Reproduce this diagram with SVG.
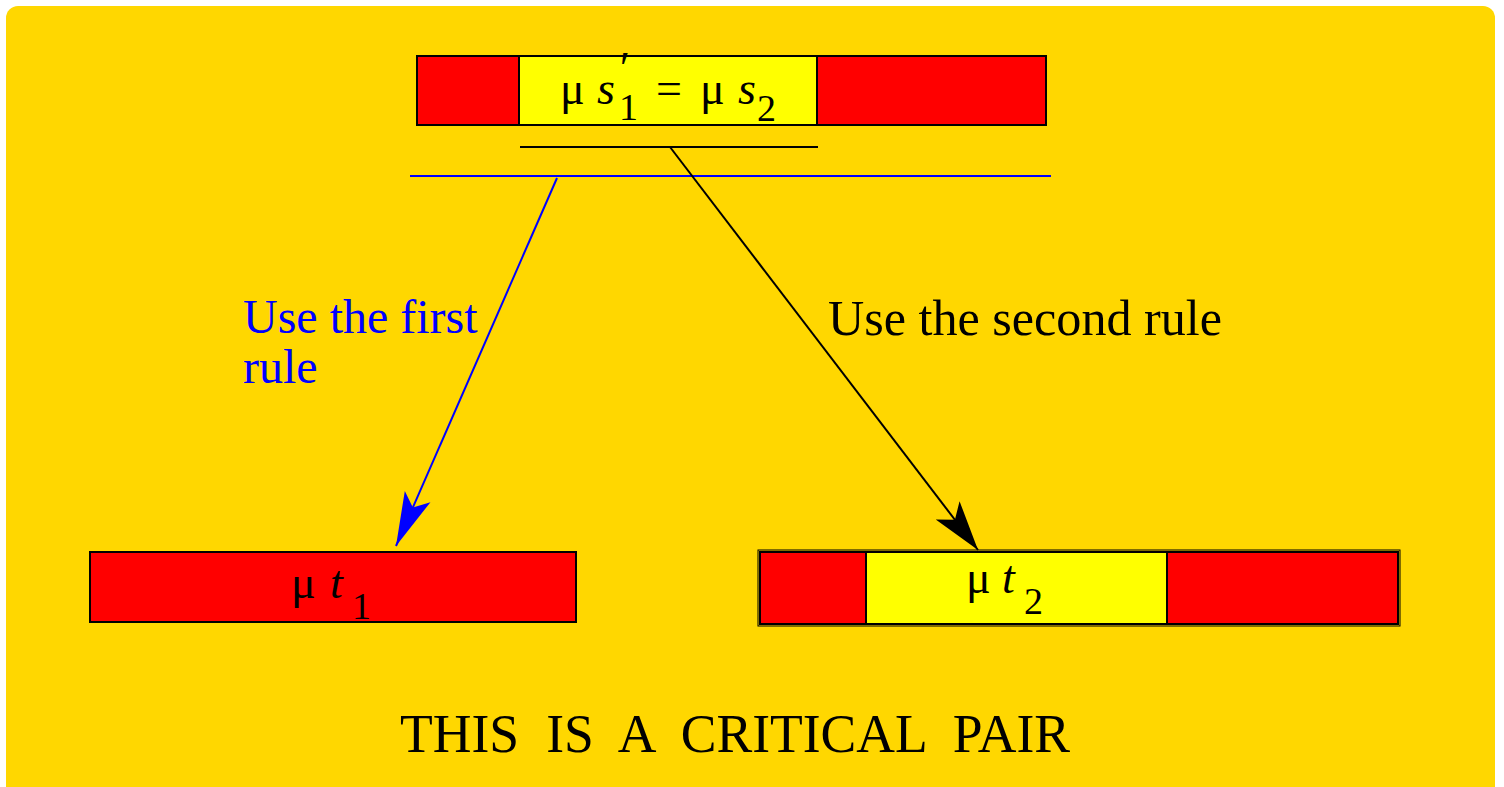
<svg xmlns="http://www.w3.org/2000/svg" width="1504" height="787" viewBox="0 0 1504 787">
<style>
.t{font-family:"Liberation Serif","Times New Roman",serif;font-size:48px;fill:#000}
.m{font-family:"Liberation Serif","Times New Roman",serif;font-size:46px;fill:#000}
.i{font-style:italic}
.sub{font-size:38px}
.red{fill:#FF0000;stroke:#000;stroke-width:2}
.yel{fill:#FFFF00;stroke:#000;stroke-width:2}
</style>
<defs>
<marker id="ab" markerUnits="userSpaceOnUse" markerWidth="60" markerHeight="60" refX="54" refY="14" orient="auto" viewBox="0 0 60 28">
<path d="M0,0 L54,14 L0,28 L12,14 Z" fill="#0000FF"/>
</marker>
<marker id="ak" markerUnits="userSpaceOnUse" markerWidth="60" markerHeight="60" refX="50" refY="15" orient="auto" viewBox="0 0 60 30">
<path d="M0,0 L50,15 L0,30 L12,15 Z" fill="#000"/>
</marker>
</defs>
<rect x="6" y="6" width="1489" height="800" rx="12" fill="#FFD700"/>
<g id="top">
<rect class="red" x="417" y="56" width="629" height="69"/>
<rect class="yel" x="519" y="56" width="298" height="69"/>
<text class="m" y="104"><tspan x="560">μ</tspan><tspan x="597" class="i">s</tspan><tspan x="617" y="84" class="i">′</tspan><tspan x="619" y="120" class="sub">1</tspan><tspan x="656" y="104">=</tspan><tspan x="700">μ</tspan><tspan x="738" class="i">s</tspan><tspan x="757" y="121" class="sub">2</tspan></text>
</g>
<g id="t1">
<rect class="red" x="90" y="552" width="486" height="70"/>
<text class="m" y="598"><tspan x="291">μ</tspan><tspan x="330" class="i">t</tspan><tspan x="352" y="619" class="sub">1</tspan></text>
</g>
<g id="t2">
<rect x="758" y="550" width="642" height="76" fill="none" stroke="#000" stroke-width="1"/>
<rect class="red" x="760" y="552" width="106" height="72"/>
<rect class="yel" x="866" y="552" width="301" height="72"/>
<rect class="red" x="1167" y="552" width="231" height="72"/>
<text class="m" y="593"><tspan x="966">μ</tspan><tspan x="1002" class="i">t</tspan><tspan x="1024" y="614" class="sub">2</tspan></text>
</g>
<g id="connectors">
<line x1="520" y1="147" x2="818" y2="147" stroke="#000" stroke-width="2"/>
<line x1="410" y1="176" x2="1051" y2="176" stroke="#0000FF" stroke-width="2"/>
<line x1="557" y1="178" x2="396" y2="546" stroke="#0000FF" stroke-width="2" marker-end="url(#ab)"/>
<line x1="670" y1="147" x2="978" y2="550" stroke="#000" stroke-width="2" marker-end="url(#ak)"/>
</g>
<g id="labels">
<text class="t" x="243" y="333" style="fill:#0000FF">Use the first</text>
<text class="t" x="243" y="383" style="fill:#0000FF">rule</text>
<text class="t" x="828" y="335" style="font-size:50px" textLength="394" lengthAdjust="spacingAndGlyphs">Use the second rule</text>
<text class="t" x="400" y="752" style="font-size:55px;word-spacing:14px" textLength="670" lengthAdjust="spacingAndGlyphs">THIS IS A CRITICAL PAIR</text>
</g>
</svg>
